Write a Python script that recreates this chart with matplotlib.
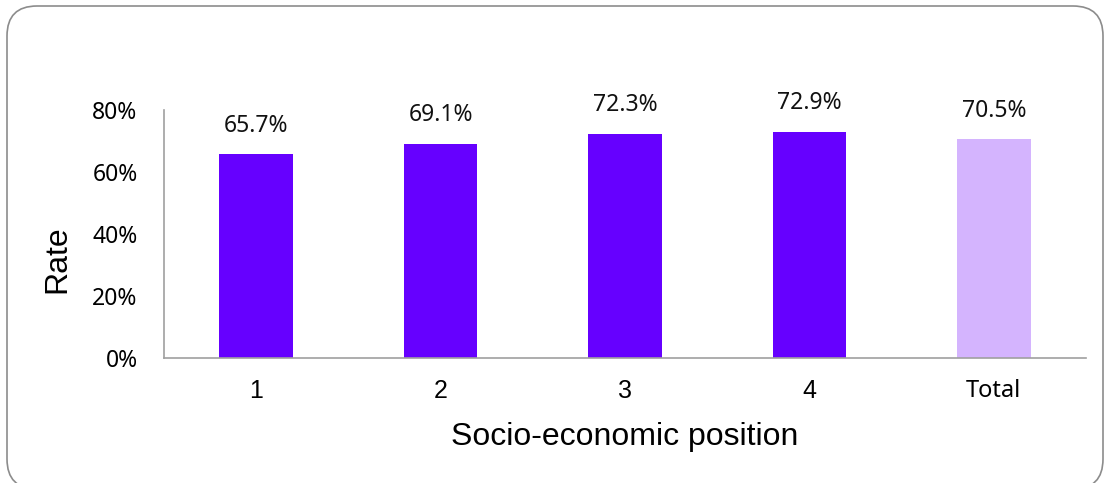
import matplotlib.pyplot as plt
from matplotlib.patches import FancyBboxPatch

categories = ['1', '2', '3', '4', 'Total']
rates = [65.7, 69.1, 72.3, 72.9, 70.5]
bar_colors = ['#6600ff', '#6600ff', '#6600ff', '#6600ff', '#d4b4fe']
yticks = [0, 20, 40, 60, 80]

W, H = 1110, 483
fig = plt.figure(figsize=(W / 100, H / 100), dpi=100)

# rounded outer frame, radius kept equal in pixels
frame = FancyBboxPatch((7 / W, -6 / H), 1096 / W, (H - 6 + 6) / H,
                       boxstyle='round,pad=0,rounding_size=0.027',
                       mutation_aspect=W / H,
                       transform=fig.transFigure, facecolor='white',
                       edgecolor='#8c8c8c', linewidth=1.2, zorder=0)
fig.patches.append(frame)

ax = fig.add_axes([164 / W, (H - 358) / H, (1086 - 164) / W, 248 / H])
ax.set_zorder(2)
ax.set_facecolor('none')

x = range(len(categories))
bars = ax.bar(x, rates, width=0.4, color=bar_colors)
for b, v in zip(bars, rates):
    ax.annotate(f'{v:.1f}%', (b.get_x() + b.get_width() / 2, v),
                xytext=(0, 12), textcoords='offset points',
                ha='center', va='bottom', fontsize=16.5, family='Noto Sans',
                color='#111111')

ax.set_xlim(-0.5, 4.5)
ax.set_ylim(0, 80)
ax.set_yticks(yticks)
ax.set_yticklabels([f'{t}%' for t in yticks], family='Noto Sans', fontsize=16.5)
ax.set_xticks(list(x))
ax.set_xticklabels(categories)
for lbl in ax.get_xticklabels():
    if lbl.get_text() == 'Total':
        lbl.set_family('Noto Sans')
        lbl.set_fontsize(17)
    else:
        lbl.set_family('Liberation Sans')
        lbl.set_fontsize(18)
ax.tick_params(axis='y', length=0, pad=19)
ax.tick_params(axis='x', length=0, pad=15)

for s in ['top', 'right']:
    ax.spines[s].set_visible(False)
for s in ['left', 'bottom']:
    ax.spines[s].set_color('#a0a0a0')
    ax.spines[s].set_linewidth(1.2)

ax.set_ylabel('Rate', family='Liberation Sans', fontsize=23)
ax.yaxis.set_label_coords(-0.0998, 0.40)
ax.set_xlabel('Socio-economic position', family='Liberation Sans',
              fontsize=23, labelpad=14)

fig.savefig('out.png', dpi=100)
